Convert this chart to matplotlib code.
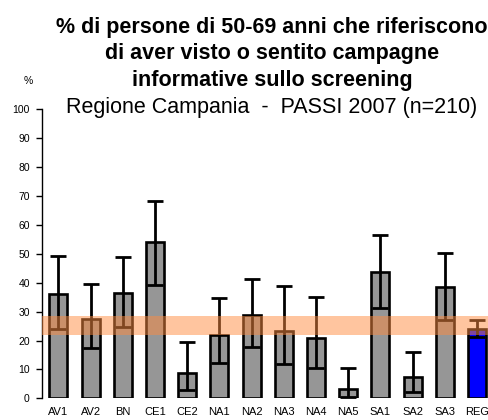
import matplotlib
matplotlib.use('Agg')
import matplotlib.pyplot as plt
import numpy as np

plt.rcParams['font.family'] = ['Liberation Sans', 'DejaVu Sans']

# data
asl = ['AV1', 'AV2', 'BN', 'CE1', 'CE2', 'NA1', 'NA2', 'NA3', 'NA4', 'NA5',
       'SA1', 'SA2', 'SA3', 'REG']
pct = [36.1, 27.6, 36.3, 54.0, 8.8, 21.8, 28.7, 23.3, 20.8, 3.2,
       43.7, 7.3, 38.4, 24.0]
ci_low = [24.0, 17.3, 24.8, 39.1, 2.9, 12.1, 17.7, 11.7, 10.4, 0.6,
          31.4, 2.3, 27.1, 21.1]
ci_high = [49.2, 39.5, 48.9, 68.4, 19.6, 34.6, 41.2, 38.7, 35.0, 10.6,
           56.5, 16.0, 50.3, 27.1]
reg_band = (22.0, 28.5)

title_lines = ['% di persone di 50-69 anni che riferiscono',
               'di aver visto o sentito campagne',
               'informative sullo screening']
subtitle = 'Regione Campania  -  PASSI 2007 (n=210)'

fig = plt.figure(figsize=(4.88, 4.2), dpi=100)
ax = fig.add_axes([0.0867, 0.0517, 0.9238, 0.6878])

x = np.arange(len(asl))
colors = ['#969696'] * (len(asl) - 1) + ['#0000FF']
ax.bar(x, pct, width=0.56, color=colors, edgecolor='black', linewidth=1.9, zorder=2)

pct_a = np.array(pct)
yerr = [pct_a - np.array(ci_low), np.array(ci_high) - pct_a]
ax.errorbar(x, pct, yerr=yerr, fmt='none', ecolor='black', elinewidth=2,
            capsize=6, capthick=2, zorder=3)

# regional confidence band, drawn over the bars
ax.axhspan(reg_band[0], reg_band[1], color='#FF8C40', alpha=0.5, lw=0, zorder=4)

ax.set_xlim(-0.5, 13.5)
ax.set_ylim(0, 100)
ax.set_yticks(np.arange(0, 101, 10))
ax.set_xticks(x)
ax.set_xticklabels(asl)
ax.tick_params(axis='x', length=0, labelsize=8, pad=6)
ax.tick_params(axis='y', direction='out', length=4, width=1, labelsize=7.5, pad=5)
for s in ['top', 'right', 'bottom']:
    ax.spines[s].set_visible(False)
ax.spines['left'].set_linewidth(1)

fig.text(28 / 488, 1 - 81 / 420, '%', fontsize=7.5, ha='center', va='center')
for i, line in enumerate(title_lines):
    fig.text(272 / 488, 1 - (27 + 26.7 * i) / 420, line, fontsize=15.5,
             fontweight='bold', ha='center', va='center')
fig.text(272 / 488, 1 - 108 / 420, subtitle, fontsize=15.5, ha='center', va='center')

fig.savefig('out.png', dpi=100)
